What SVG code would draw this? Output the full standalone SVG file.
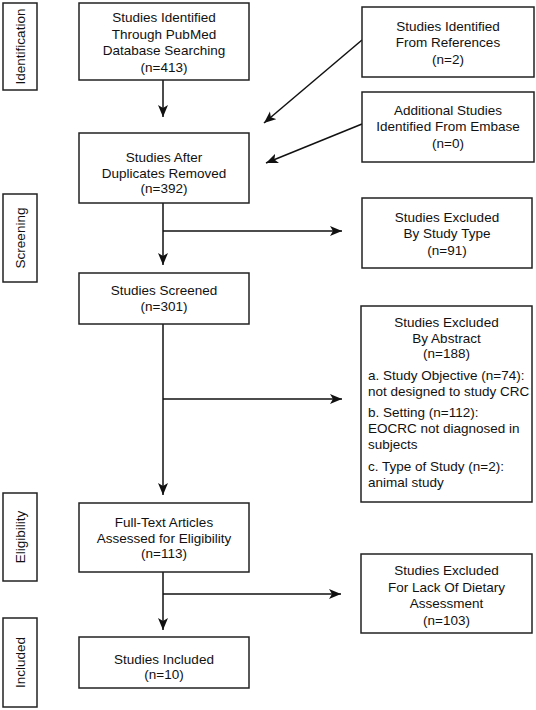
<svg xmlns="http://www.w3.org/2000/svg" width="536" height="710" viewBox="0 0 536 710">
<defs>
<marker id="ah" markerWidth="13" markerHeight="11" refX="12" refY="5" orient="auto" markerUnits="userSpaceOnUse">
<path d="M0,0 L12,5 L0,10 L3,5 z" fill="#111"/>
</marker>
<style>
.box{fill:#fff;stroke:#222;stroke-width:1.5}
.t{font-family:"Liberation Sans",Arial,sans-serif;font-size:13.5px;fill:#111;text-anchor:middle}
.l{font-family:"Liberation Sans",Arial,sans-serif;font-size:13.5px;fill:#111;text-anchor:start}
.c{fill:none;stroke:#111;stroke-width:1.5}
</style>
</defs>
<rect width="536" height="710" fill="#fff"/>
<g id="stage-identification"><rect class="box" x="3" y="3" width="34" height="87"/><text class="t" transform="translate(25,46.5) rotate(-90)">Identification</text></g>
<g id="stage-screening"><rect class="box" x="3" y="194" width="34" height="88"/><text class="t" transform="translate(25,238) rotate(-90)">Screening</text></g>
<g id="stage-eligibility"><rect class="box" x="3" y="493" width="34" height="88"/><text class="t" transform="translate(25,537) rotate(-90)">Eligibility</text></g>
<g id="stage-included"><rect class="box" x="3" y="618" width="34" height="89"/><text class="t" transform="translate(25,662.5) rotate(-90)">Included</text></g>

<g id="connectors">
<line class="c" x1="163" y1="80" x2="163" y2="117" marker-end="url(#ah)"/>
<line class="c" x1="163" y1="203" x2="163" y2="265" marker-end="url(#ah)"/>
<line class="c" x1="163" y1="231" x2="342" y2="231" marker-end="url(#ah)"/>
<line class="c" x1="163" y1="324" x2="163" y2="495" marker-end="url(#ah)"/>
<line class="c" x1="163" y1="399" x2="342" y2="399" marker-end="url(#ah)"/>
<line class="c" x1="163" y1="572" x2="163" y2="630" marker-end="url(#ah)"/>
<line class="c" x1="163" y1="594" x2="341" y2="594" marker-end="url(#ah)"/>
<line class="c" x1="362" y1="40" x2="264" y2="123" marker-end="url(#ah)"/>
<line class="c" x1="362" y1="124" x2="266" y2="163" marker-end="url(#ah)"/>
</g>

<g id="pubmed"><rect class="box" x="79" y="3" width="170" height="77"/>
<text class="t" x="164" y="22">Studies Identified</text>
<text class="t" x="164" y="38.5">Through PubMed</text>
<text class="t" x="164" y="55">Database Searching</text>
<text class="t" x="164" y="71.5">(n=413)</text></g>

<g id="references"><rect class="box" x="362" y="7" width="172" height="70"/>
<text class="t" x="448" y="31">Studies Identified</text>
<text class="t" x="448" y="47">From References</text>
<text class="t" x="448" y="64">(n=2)</text></g>

<g id="embase"><rect class="box" x="362" y="92" width="172" height="70"/>
<text class="t" x="448" y="115">Additional Studies</text>
<text class="t" x="448" y="131">Identified From Embase</text>
<text class="t" x="448" y="148">(n=0)</text></g>

<g id="duplicates"><rect class="box" x="79" y="133" width="170" height="70"/>
<text class="t" x="164" y="162">Studies After</text>
<text class="t" x="164" y="177.5">Duplicates Removed</text>
<text class="t" x="164" y="193">(n=392)</text></g>

<g id="study-type"><rect class="box" x="362" y="198" width="170" height="70"/>
<text class="t" x="447" y="222">Studies Excluded</text>
<text class="t" x="447" y="238">By Study Type</text>
<text class="t" x="447" y="255">(n=91)</text></g>

<g id="screened"><rect class="box" x="79" y="273" width="170" height="51"/>
<text class="t" x="164" y="295">Studies Screened</text>
<text class="t" x="164" y="310.5">(n=301)</text></g>

<g id="abstract"><rect class="box" x="361" y="306" width="171" height="196"/>
<text class="t" x="446.5" y="327">Studies Excluded</text>
<text class="t" x="446.5" y="343">By Abstract</text>
<text class="t" x="446.5" y="358">(n=188)</text>
<text class="l" x="368" y="380">a. Study Objective (n=74):</text>
<text class="l" x="368" y="396">not designed to study CRC</text>
<text class="l" x="368" y="417">b. Setting (n=112):</text>
<text class="l" x="368" y="433">EOCRC not diagnosed in</text>
<text class="l" x="368" y="449">subjects</text>
<text class="l" x="368" y="471">c. Type of Study (n=2):</text>
<text class="l" x="368" y="487">animal study</text></g>

<g id="fulltext"><rect class="box" x="79" y="503" width="170" height="69"/>
<text class="t" x="164" y="527">Full-Text Articles</text>
<text class="t" x="164" y="542.5">Assessed for Eligibility</text>
<text class="t" x="164" y="558">(n=113)</text></g>

<g id="dietary"><rect class="box" x="361" y="554" width="171" height="79"/>
<text class="t" x="446.5" y="575">Studies Excluded</text>
<text class="t" x="446.5" y="592">For Lack Of Dietary</text>
<text class="t" x="446.5" y="608">Assessment</text>
<text class="t" x="446.5" y="625">(n=103)</text></g>

<g id="included"><rect class="box" x="79" y="637" width="170" height="51"/>
<text class="t" x="164" y="664">Studies Included</text>
<text class="t" x="164" y="679">(n=10)</text></g>
</svg>
